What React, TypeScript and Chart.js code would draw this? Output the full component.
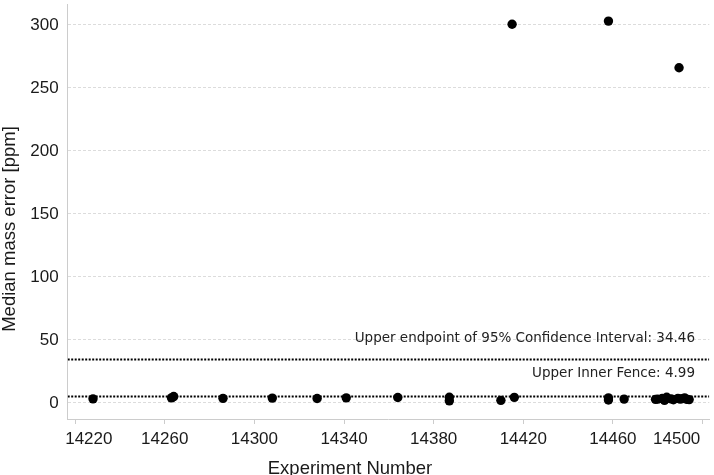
import React, { useEffect, useRef } from "react";
import { Chart, registerables } from "chart.js";

Chart.register(...registerables);

const experimentNumbers = [
  14228, 14263, 14264, 14286, 14308, 14328, 14341, 14364, 14387, 14387,
  14410, 14415, 14416, 14458, 14458, 14458, 14465, 14479, 14480, 14482,
  14483, 14484, 14486, 14487, 14489.5, 14489, 14490, 14491, 14492, 14493, 14494,
];
const medianMassError = [
  3.2, 4.0, 5.0, 3.6, 3.8, 3.5, 4.0, 4.3, 4.5, 1.6,
  2.0, 300.5, 4.4, 303, 4.0, 2.3, 3.0, 2.8, 3.0, 3.5,
  2.0, 4.5, 3.2, 2.5, 266, 3.6, 3.0, 3.4, 4.0, 2.8, 2.6,
];
const xTickValues = [14220, 14260, 14300, 14340, 14380, 14420, 14460, 14500];
const yTickValues = [0, 50, 100, 150, 200, 250, 300];
const ciUpperEndpoint = 34.46;
const upperInnerFence = 4.99;
const xRange = [14216.7, 14503];
const yRange = [-12.8, 316];

const labelsPlugin = {
  id: "labelsPlugin",
  afterDatasetsDraw(chart: any) {
    const { ctx, scales, chartArea } = chart;
    const x = scales.x;
    const y = scales.y;
    ctx.save();
    // reference line annotations
    ctx.fillStyle = "#222";
    ctx.font = '13.5px "DejaVu Sans"';
    ctx.textAlign = "right";
    ctx.textBaseline = "middle";
    ctx.fillText(
      `Upper endpoint of 95% Confidence Interval: ${ciUpperEndpoint.toFixed(2)}`,
      chartArea.right - 14.3,
      y.getPixelForValue(ciUpperEndpoint) - 21
    );
    ctx.fillText(
      `Upper Inner Fence: ${upperInnerFence.toFixed(2)}`,
      chartArea.right - 14.3,
      y.getPixelForValue(upperInnerFence) - 23
    );
    // x tick labels, kept inside the plot horizontally
    ctx.fillStyle = "#1a1a1a";
    ctx.font = '17px "Liberation Sans"';
    ctx.textAlign = "center";
    ctx.textBaseline = "middle";
    const minLeft = chartArea.left - 2.5;
    const maxRight = chartArea.right - 9;
    xTickValues.forEach((v) => {
      const label = String(v);
      const w = ctx.measureText(label).width;
      let cx = x.getPixelForValue(v);
      if (cx - w / 2 < minLeft) cx = minLeft + w / 2;
      if (cx + w / 2 > maxRight) cx = maxRight - w / 2;
      ctx.fillText(label, cx, chartArea.bottom + 20);
    });
    // axis titles
    ctx.font = '18.5px "Liberation Sans"';
    ctx.textAlign = "center";
    ctx.textBaseline = "alphabetic";
    ctx.fillText("Experiment Number", 350, 474);
    ctx.translate(14.5, 229);
    ctx.rotate(-Math.PI / 2);
    ctx.fillText("Median mass error [ppm]", 0, 0);
    ctx.restore();
  },
};

export default function App() {
  const ref = useRef<HTMLCanvasElement>(null);
  useEffect(() => {
    const canvas = ref.current!;
    const [xMin, xMax] = xRange;
    const [yMin, yMax] = yRange;
    const chart = new Chart(canvas, {
      type: "scatter",
      data: {
        datasets: [
          {
            data: experimentNumbers.map((x, i) => ({ x, y: medianMassError[i] })),
            backgroundColor: "#000",
            borderColor: "#000",
            borderWidth: 0,
            pointRadius: 4.7,
            pointHoverRadius: 4.7,
            order: 0,
          },
          {
            data: [
              { x: xMin, y: ciUpperEndpoint },
              { x: xMax, y: ciUpperEndpoint },
            ],
            showLine: true,
            borderColor: "#000",
            borderWidth: 2,
            borderDash: [2, 1.5],
            pointRadius: 0,
            order: 1,
          },
          {
            data: [
              { x: xMin, y: upperInnerFence },
              { x: xMax, y: upperInnerFence },
            ],
            showLine: true,
            borderColor: "#000",
            borderWidth: 2,
            borderDash: [2, 1.5],
            pointRadius: 0,
            order: 1,
          },
        ],
      },
      options: {
        responsive: false,
        animation: false,
        layout: { padding: { left: 0, right: 2, top: 0, bottom: 0 } },
        plugins: { legend: { display: false }, tooltip: { enabled: false } },
        scales: {
          x: {
            type: "linear",
            min: xMin,
            max: xMax,
            afterBuildTicks: (scale: any) => {
              scale.ticks = xTickValues.map((v) => ({ value: v }));
            },
            afterFit: (scale: any) => {
              scale.height = 56;
              scale.paddingLeft = 0;
              scale.paddingRight = 0;
            },
            grid: {
              drawOnChartArea: false,
              drawTicks: true,
              tickLength: 5,
              color: "#cccccc",
            },
            border: { display: true, color: "#cccccc", width: 1 },
            ticks: { display: false, autoSkip: false },
          },
          y: {
            type: "linear",
            min: yMin,
            max: yMax,
            afterBuildTicks: (scale: any) => {
              scale.ticks = yTickValues.map((v) => ({ value: v }));
            },
            afterFit: (scale: any) => {
              scale.width = 67.7;
              scale.paddingTop = 0;
              scale.paddingBottom = 0;
            },
            grid: {
              drawTicks: false,
              color: "#dcdcdc",
              lineWidth: 1,
            },
            border: { display: true, color: "#cccccc", width: 1, dash: [3, 2] },
            ticks: {
              font: { family: "Liberation Sans", size: 17 },
              color: "#1a1a1a",
              padding: 9,
              autoSkip: false,
              callback: (v: any) => String(v),
            },
          },
        },
      },
      plugins: [labelsPlugin],
    });
    return () => chart.destroy();
  }, []);
  return (
    <div style={{ position: "absolute", left: 0, top: 0, width: 714, height: 475 }}>
      <canvas ref={ref} width={714} height={475} style={{ display: "block" }} />
    </div>
  );
}
